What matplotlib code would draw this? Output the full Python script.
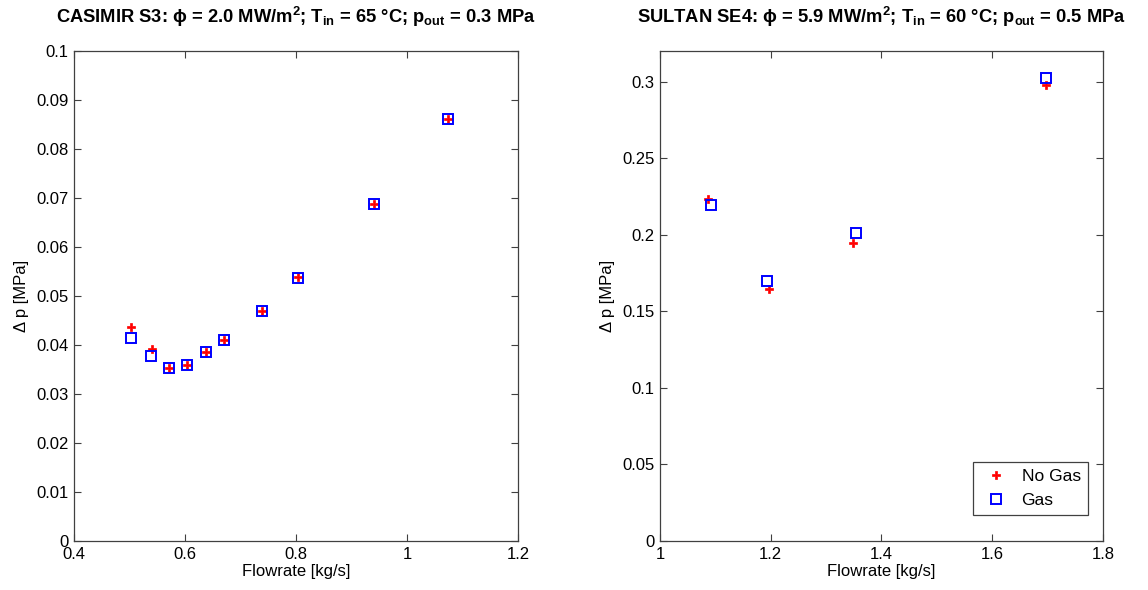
import numpy as np
import matplotlib
matplotlib.use('Agg')
from matplotlib import pyplot as plt
from matplotlib.ticker import FormatStrFormatter

plt.rcParams['font.family'] = ['Liberation Sans', 'DejaVu Sans']
plt.rcParams['mathtext.default'] = 'regular'

# CASIMIR S3
flow_s3_nogas = [0.503, 0.540, 0.571, 0.604, 0.638, 0.670, 0.739, 0.804, 0.940, 1.073]
dp_s3_nogas = [0.0436, 0.0392, 0.0352, 0.0360, 0.0385, 0.0411, 0.0470, 0.0538, 0.0688, 0.0861]
flow_s3_gas = [0.503, 0.539, 0.571, 0.604, 0.638, 0.670, 0.739, 0.804, 0.940, 1.073]
dp_s3_gas = [0.0415, 0.0378, 0.0352, 0.0359, 0.0385, 0.0411, 0.0470, 0.0537, 0.0688, 0.0861]

# SULTAN SE4
flow_se4_nogas = [1.087, 1.197, 1.348, 1.697]
dp_se4_nogas = [0.2235, 0.1644, 0.1946, 0.2980]
flow_se4_gas = [1.092, 1.193, 1.354, 1.697]
dp_se4_gas = [0.2196, 0.1696, 0.2011, 0.3025]

titles = [r'CASIMIR S3: ϕ = 2.0 MW/m$^2$; T$_{in}$ = 65 °C; p$_{out}$ = 0.3 MPa',
          r'SULTAN SE4: ϕ = 5.9 MW/m$^2$; T$_{in}$ = 60 °C; p$_{out}$ = 0.5 MPa']

fig = plt.figure(figsize=(11.48, 5.9), dpi=100)
ax1 = fig.add_axes([0.0645, 0.0831, 0.3868, 0.8305])
ax2 = fig.add_axes([0.5749, 0.0831, 0.3859, 0.8305])

panels = [
    (ax1, flow_s3_nogas, dp_s3_nogas, flow_s3_gas, dp_s3_gas, (0.4, 1.2), (0, 0.1),
     np.arange(0.4, 1.21, 0.2), np.arange(0, 0.101, 0.01)),
    (ax2, flow_se4_nogas, dp_se4_nogas, flow_se4_gas, dp_se4_gas, (1, 1.8), (0, 0.32),
     np.arange(1, 1.81, 0.2), np.arange(0, 0.301, 0.05)),
]

for i, (ax, xn, yn, xg, yg, xl, yl, xt, yt) in enumerate(panels):
    ax.plot(xn, yn, 'P', color='red', markersize=6, markeredgewidth=0.5, label='No Gas')
    ax.plot(xg, yg, 's', color='blue', markerfacecolor='none', markersize=7,
            markeredgewidth=1.4, label='Gas')
    ax.set_xlim(*xl)
    ax.set_ylim(*yl)
    ax.set_xticks(xt)
    ax.set_yticks(yt)
    ax.xaxis.set_major_formatter(FormatStrFormatter('%g'))
    ax.yaxis.set_major_formatter(FormatStrFormatter('%g'))
    ax.tick_params(direction='in', top=True, right=True, labelsize=12, length=5,
                   color='#404040', pad=4)
    for s in ax.spines.values():
        s.set_color('#404040')
        s.set_linewidth(0.9)
    ax.set_xlabel('Flowrate [kg/s]', fontsize=12, labelpad=2)
    ax.set_ylabel('Δ p [MPa]', fontsize=12, labelpad=5)
    ax.set_title(titles[i], fontsize=13.2, fontweight='bold', pad=20)

leg = ax2.legend(loc='lower right', fontsize=12.5, fancybox=False, framealpha=1,
                 edgecolor='#404040', borderpad=0.4, handletextpad=0.6,
                 handlelength=1.8, bbox_to_anchor=(0.985, 0.035))
leg.get_frame().set_linewidth(0.9)

plt.savefig('out.png', dpi=100)
